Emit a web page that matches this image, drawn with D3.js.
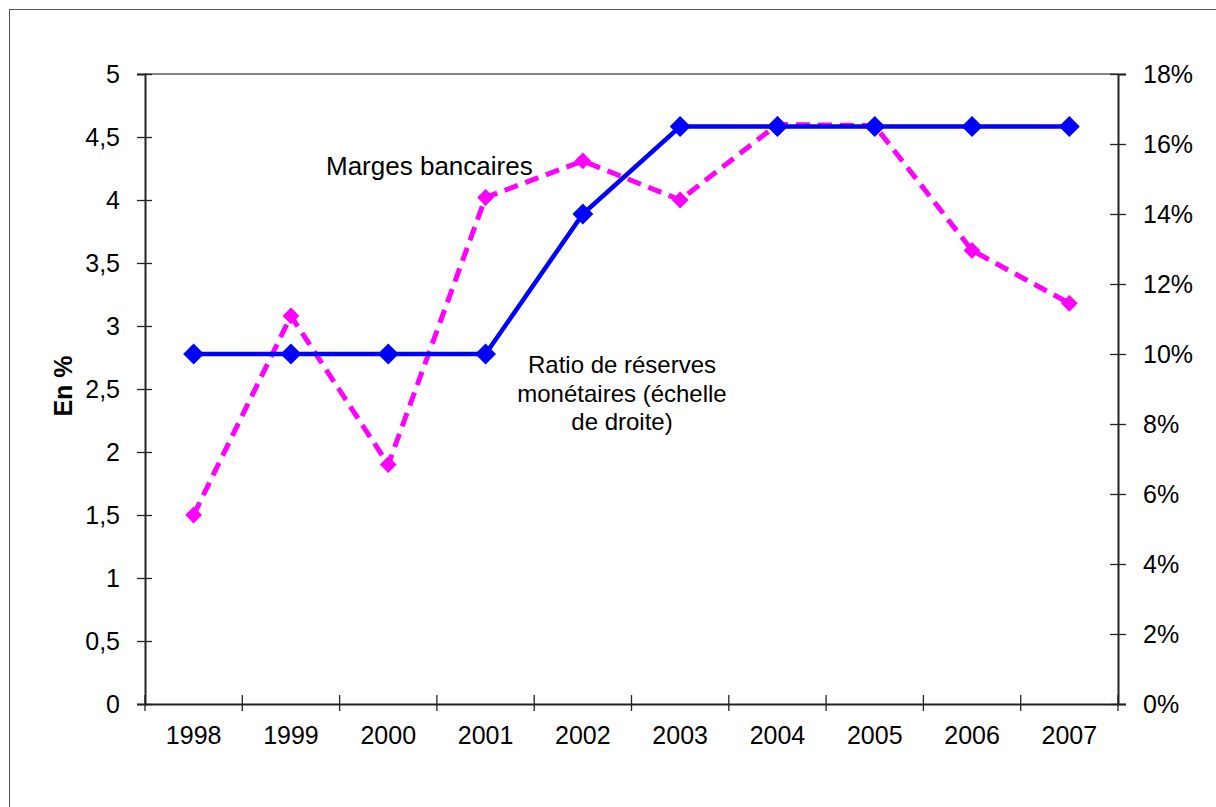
<!DOCTYPE html>
<html>
<head>
<meta charset="utf-8">
<script src="https://cdn.jsdelivr.net/npm/d3@7"></script>
<style>
  body { margin: 0; background: #fff; }
  svg { display: block; font-family: "Liberation Sans", Arial, sans-serif; }
</style>
</head>
<body>
<svg width="1216" height="807"></svg>
<script>
var years = ["1998", "1999", "2000", "2001", "2002", "2003", "2004", "2005", "2006", "2007"];
var marges = [1.5, 3.08, 1.9, 4.02, 4.31, 4.0, 4.6, 4.59, 3.6, 3.18];
var ratio = [10, 10, 10, 10, 14, 16.5, 16.5, 16.5, 16.5, 16.5];
var leftTicks = [0, 0.5, 1, 1.5, 2, 2.5, 3, 3.5, 4, 4.5, 5];
var rightTicks = [0, 2, 4, 6, 8, 10, 12, 14, 16, 18];

var svg = d3.select("svg"),
    pLeft = 145, pRight = 1118, pTop = 74, pBottom = 704;

// outer frame (runs off the right and bottom edges)
svg.append("rect")
    .attr("x", 9.5).attr("y", 9.5)
    .attr("width", 1230).attr("height", 820)
    .attr("fill", "none").attr("stroke", "#555").attr("stroke-width", 1);

var x = d3.scaleBand().domain(years).range([pLeft, pRight]);
var yL = d3.scaleLinear().domain([0, 5]).range([pBottom, pTop]);
var yR = d3.scaleLinear().domain([0, 18]).range([pBottom, pTop]);

// gray top border of plot area
svg.append("line")
    .attr("x1", pLeft).attr("x2", pRight)
    .attr("y1", pTop).attr("y2", pTop)
    .attr("stroke", "#888").attr("stroke-width", 2);

function styleAxis(g) {
    g.select(".domain").attr("stroke", "#222").attr("stroke-width", 2);
    g.selectAll(".tick line").attr("stroke", "#222").attr("stroke-width", 1.3);
    g.selectAll(".tick text").attr("font-size", 25).attr("fill", "#000")
        .attr("font-family", "Liberation Sans, Arial, sans-serif");
}

// left axis
var gL = svg.append("g").attr("transform", "translate(" + pLeft + ",0)")
    .call(d3.axisLeft(yL).tickValues(leftTicks).tickSize(8).tickPadding(17)
        .tickFormat(function(d) { return String(d).replace(".", ","); }));
styleAxis(gL);
gL.selectAll(".tick line").attr("x2", -8).attr("x1", 7);

// right axis
var gR = svg.append("g").attr("transform", "translate(" + pRight + ",0)")
    .call(d3.axisRight(yR).tickValues(rightTicks).tickSize(8).tickPadding(17)
        .tickFormat(function(d) { return d + "%"; }));
styleAxis(gR);
gR.selectAll(".tick line").attr("x1", -8).attr("x2", 8);

// bottom axis: ticks on category boundaries
var gX = svg.append("g").attr("transform", "translate(0," + pBottom + ")")
    .call(d3.axisBottom(x).tickSize(0).tickPadding(40));
styleAxis(gX);
gX.selectAll(".tick text").attr("dy", "0");
var bounds = years.map(function(d) { return x(d); }).concat([pRight]);
gX.selectAll(".bnd").data(bounds).enter().append("line")
    .attr("x1", function(d) { return d; }).attr("x2", function(d) { return d; })
    .attr("y1", -9).attr("y2", 7)
    .attr("stroke", "#222").attr("stroke-width", 1.3);

// y axis title
svg.append("text")
    .attr("transform", "translate(72,386) rotate(-90)")
    .attr("text-anchor", "middle")
    .attr("font-size", 25).attr("font-weight", "bold")
    .text("En %");

var cx = function(d, i) { return x(years[i]) + x.bandwidth() / 2; };

// magenta dashed series (left axis)
var lineM = d3.line().x(cx).y(function(d) { return yL(d); });
svg.append("path").datum(marges)
    .attr("d", lineM).attr("fill", "none")
    .attr("stroke", "#ff00ff").attr("stroke-width", 5)
    .attr("stroke-dasharray", "14,8");
var diamond = d3.symbol().type(d3.symbolDiamond2);
svg.selectAll(".mm").data(marges).enter().append("path")
    .attr("d", diamond.size(180))
    .attr("transform", function(d, i) { return "translate(" + cx(d, i) + "," + yL(d) + ")"; })
    .attr("fill", "#ff00ff");

// blue series (right axis)
var lineB = d3.line().x(cx).y(function(d) { return yR(d); });
svg.append("path").datum(ratio)
    .attr("d", lineB).attr("fill", "none")
    .attr("stroke", "#0000ff").attr("stroke-width", 4.5);
svg.selectAll(".mb").data(ratio).enter().append("path")
    .attr("d", diamond.size(280))
    .attr("transform", function(d, i) { return "translate(" + cx(d, i) + "," + yR(d) + ")"; })
    .attr("fill", "#0000ff");

// annotations
svg.append("text").attr("x", 326).attr("y", 175)
    .attr("font-size", 26).text("Marges bancaires");

var note = ["Ratio de réserves", "monétaires (échelle", "de droite)"];
svg.append("text").attr("text-anchor", "middle").attr("font-size", 24)
    .selectAll("tspan").data(note).enter().append("tspan")
    .attr("x", 622).attr("y", function(d, i) { return 373 + i * 28.5; })
    .text(function(d) { return d; });
</script>
</body>
</html>
